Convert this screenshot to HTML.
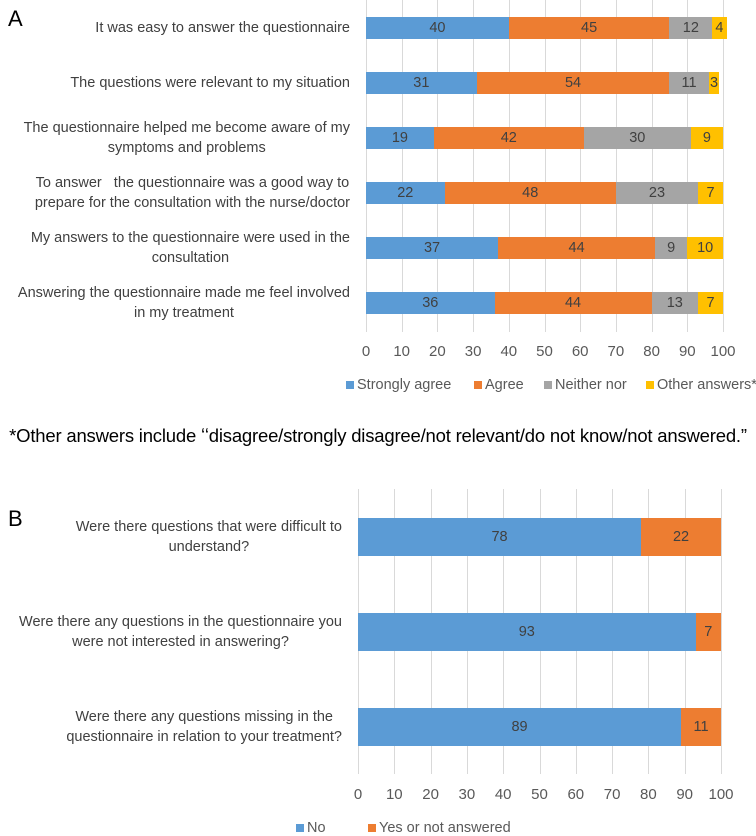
<!DOCTYPE html>
<html><head><meta charset="utf-8">
<style>
body{margin:0;background:#fff;}
#root{position:relative;width:756px;height:836px;overflow:hidden;font-family:"Liberation Sans",sans-serif;color:#404040;}
.abs{position:absolute;}
.lbl{position:absolute;text-align:center;font-size:14.5px;line-height:20px;white-space:nowrap;color:#404040;}
.val{position:absolute;font-size:14.5px;text-align:center;color:#404040;}
.tick{position:absolute;font-size:15px;width:40px;text-align:center;color:#595959;}
.grid{position:absolute;width:1px;background:#d9d9d9;}
.leg{position:absolute;font-size:14.5px;color:#595959;white-space:nowrap;}
.sw{display:inline-block;width:8px;height:8px;margin-right:3px;}
</style></head>
<body>
<div id="root">
<div class="abs" style="left:8px;top:6px;font-size:22px;color:#000">A</div>
<div class="abs" style="left:8px;top:506px;font-size:22px;color:#000">B</div>
<div class="abs" style="left:0;top:425px;width:756px;text-align:center;font-size:18.5px;color:#000;white-space:nowrap;letter-spacing:-0.2px">*Other answers include ʻʻdisagree/strongly disagree/not relevant/do not know/not answered.”</div>
</div>
<script>
const catsA=["It was easy to answer the questionnaire","The questions were relevant to my situation","The questionnaire helped me become aware of my\nsymptoms and problems","To answer   the questionnaire was a good way to\nprepare for the consultation with the nurse/doctor","My answers to the questionnaire were used in the\nconsultation","Answering the questionnaire made me feel involved\nin my treatment"];
const strongly=[40,31,19,22,37,36];
const agree=[45,54,42,48,44,44];
const neither=[12,11,30,23,9,13];
const other=[4,3,9,7,10,7];
const seriesNamesA=["Strongly agree","Agree","Neither nor","Other answers*"];
const catsB=["Were there questions that were difficult to\nunderstand?","Were there any questions in the questionnaire you\nwere not interested in answering?","Were there any questions missing in the\nquestionnaire in relation to your treatment?"];
const noVals=[78,93,89];
const yesVals=[22,7,11];
const seriesNamesB=["No","Yes or not answered"];
const ticks=[0,10,20,30,40,50,60,70,80,90,100];
const colors=["#5b9bd5","#ed7d31","#a5a5a5","#ffc000"];
const root=document.getElementById('root');
function el(cls,style,text){const d=document.createElement('div');d.className=cls;d.style.cssText=style;if(text!==undefined)d.textContent=text;root.appendChild(d);return d;}
function chart(cfg){
  const xs=v=>cfg.x0+v*(cfg.x1-cfg.x0)/100;
  ticks.forEach(t=>{
    const g=el('grid',`left:${xs(t)}px;top:${cfg.gTop}px;height:${cfg.gBot-cfg.gTop}px`);
    
    
    const tl=el('tick',`left:${xs(t)-20}px;top:${cfg.tickY}px`,String(t));
    
    
  });
  cfg.cats.forEach((c,i)=>{
    const top=cfg.barTop+i*cfg.step;
    const lines=c.split('\n');
    const lb=el('lbl',`right:${756-cfg.lblRight}px;top:${top+cfg.h/2-lines.length*10}px`,c);
    lb.style.whiteSpace='pre';
    
    
    let acc=0;
    cfg.series.forEach((s,k)=>{
      const v=s[i];
      const b=el('abs',`left:${xs(acc)}px;top:${top}px;width:${xs(acc+v)-xs(acc)}px;height:${cfg.h}px;background:${colors[k]}`);
      
      
      const t=el('val',`left:${xs(acc)}px;top:${top+cfg.h/2-9}px;width:${xs(acc+v)-xs(acc)}px;line-height:18px`,String(v));
      
      
      acc+=v;
    });
  });
  cfg.legend.forEach((n,k)=>{
    const l=el('leg',`left:${cfg.legX[k]}px;top:${cfg.legY}px`);
    l.innerHTML=`<span class="sw" style="background:${colors[k]}"></span>${n}`;
    
    
  });
}
chart({cats:catsA,series:[strongly,agree,neither,other],x0:366,x1:723,gTop:0,gBot:332,tickY:343,barTop:17,step:55,h:22,lblRight:350,legend:seriesNamesA,legX:[346,474,544,646],legY:377});
chart({cats:catsB,series:[noVals,yesVals],x0:358,x1:721,gTop:489,gBot:774,tickY:786,barTop:518,step:95,h:38,lblRight:342,legend:seriesNamesB,legX:[296,368],legY:820});
</script>
</body></html>
